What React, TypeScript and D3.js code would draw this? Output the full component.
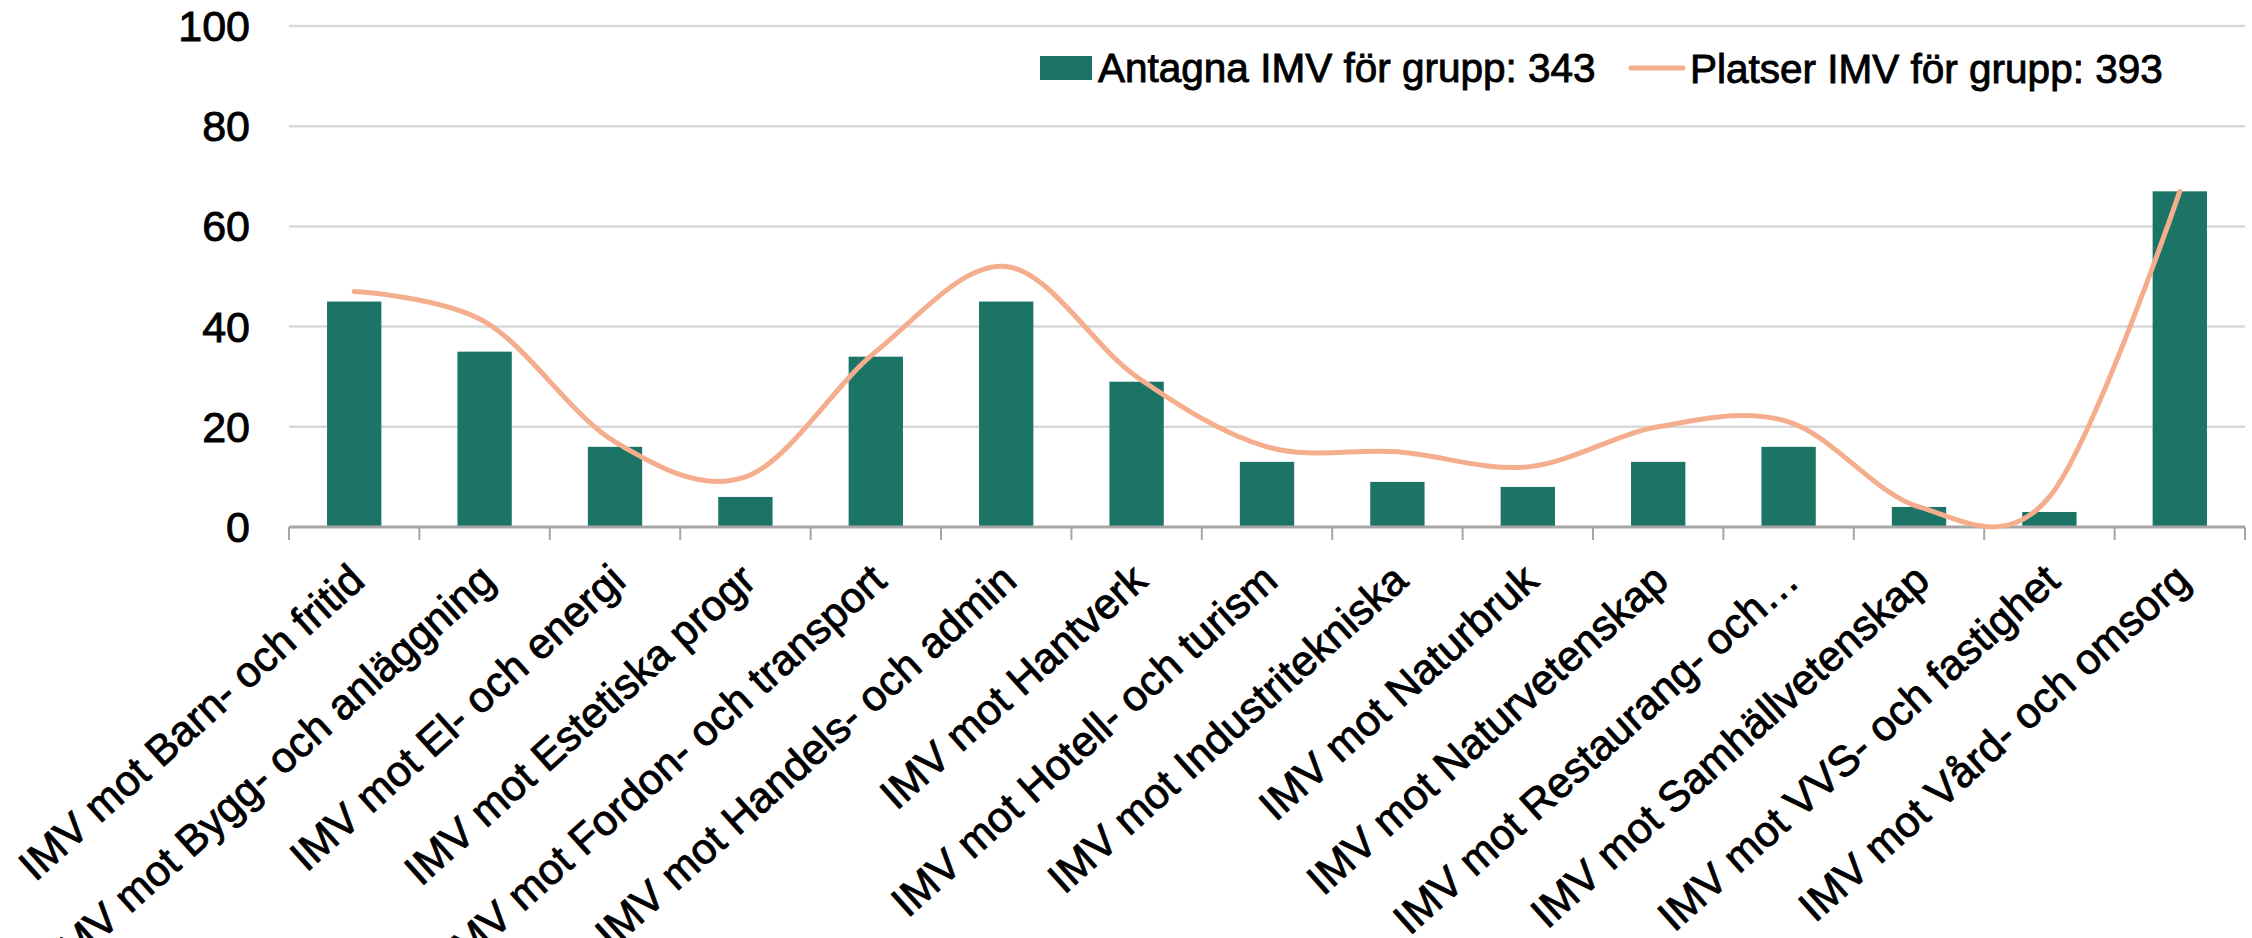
import React from "react";
import * as d3 from "d3";

const categories: string[] = [
  "IMV mot Barn- och fritid",
  "IMV mot Bygg- och anläggning",
  "IMV mot El- och energi",
  "IMV mot Estetiska progr",
  "IMV mot Fordon- och transport",
  "IMV mot Handels- och admin",
  "IMV mot Hantverk",
  "IMV mot Hotell- och turism",
  "IMV mot Industritekniska",
  "IMV mot Naturbruk",
  "IMV mot Naturvetenskap",
  "IMV mot Restaurang- och…",
  "IMV mot Samhällvetenskap",
  "IMV mot VVS- och fastighet",
  "IMV mot Vård- och omsorg",
];

const antagna: number[] = [45, 35, 16, 6, 34, 45, 29, 13, 9, 8, 13, 16, 4, 3, 67];
const platser: number[] = [47, 41, 17, 10, 35, 52, 30, 16, 15, 12, 20, 21, 4, 6, 67];

const yTicks: number[] = [0, 20, 40, 60, 80, 100];
const legendBar = "Antagna IMV för grupp: 343";
const legendLine = "Platser IMV för grupp: 393";

const W = 2252;
const H = 938;
const plotLeft = 289;
const plotRight = 2245;
const yTop = 26;
const yBottom = 527;

const BAR_COLOR = "#1C7466";
const LINE_COLOR = "#F5AE8D";
const FONT = "'Liberation Sans', Arial, sans-serif";
const TXT_STROKE = 0.9;

export default function App() {
  const x = d3.scaleBand<string>().domain(categories).range([plotLeft, plotRight]).padding(0);
  const y = d3.scaleLinear().domain([0, 100]).range([yBottom, yTop]);
  const bw = x.bandwidth();
  const barW = bw / 2.4;
  const cx = (c: string) => (x(c) as number) + bw / 2;

  const line = d3
    .line<number>()
    .x((_, i) => cx(categories[i]))
    .y((d) => y(d))
    .curve(d3.curveCardinal.tension(0));

  const boundaries = categories.map((c) => x(c) as number).concat([plotRight]);

  return (
    <svg
      width={W}
      height={H}
      style={{ position: "absolute", left: 0, top: 0, background: "#fff" }}
      fontFamily={FONT}
    >
      {/* gridlines */}
      {yTicks.filter((t) => t !== 0).map((t) => (
        <line key={"g" + t} x1={plotLeft} x2={plotRight} y1={y(t)} y2={y(t)} stroke="#D9D9D9" strokeWidth={2.5} />
      ))}
      {/* y labels */}
      {yTicks.map((t) => (
        <text key={"yl" + t} x={250} y={y(t)} textAnchor="end" dominantBaseline="central" fontSize={43} fill="#000" stroke="#000" strokeWidth={TXT_STROKE}>
          {t}
        </text>
      ))}
      {/* bars */}
      {antagna.map((v, i) => (
        <rect
          key={"b" + i}
          x={cx(categories[i]) - barW / 2}
          y={y(v)}
          width={barW}
          height={y(0) - y(v)}
          fill={BAR_COLOR}
        />
      ))}
      {/* axis */}
      <line x1={plotLeft} x2={plotRight} y1={y(0)} y2={y(0)} stroke="#A6A6A6" strokeWidth={3} />
      {boundaries.map((b, i) => (
        <line key={"t" + i} x1={b} x2={b} y1={y(0)} y2={y(0) + 13} stroke="#A6A6A6" strokeWidth={2} />
      ))}
      {/* line */}
      <path d={line(platser) || ""} fill="none" stroke={LINE_COLOR} strokeWidth={5} strokeLinecap="round" />
      {/* x labels */}
      {categories.map((c) => (
        <text
          key={"xl" + c}
          transform={`translate(${cx(c) + 3},${yBottom + 46}) rotate(-42)`}
          textAnchor="end"
          dominantBaseline="central"
          fontSize={42.5}
          fill="#000"
          stroke="#000"
          strokeWidth={TXT_STROKE}
        >
          {c}
        </text>
      ))}
      {/* legend */}
      <rect x={1040} y={56} width={52} height={24} fill={BAR_COLOR} />
      <text x={1098} y={82} fontSize={40.5} fill="#000" stroke="#000" strokeWidth={TXT_STROKE}>
        {legendBar}
      </text>
      <line x1={1631} x2={1683} y1={68} y2={68} stroke={LINE_COLOR} strokeWidth={5} strokeLinecap="round" />
      <text x={1690} y={83} fontSize={40.5} fill="#000" stroke="#000" strokeWidth={TXT_STROKE}>
        {legendLine}
      </text>
    </svg>
  );
}
